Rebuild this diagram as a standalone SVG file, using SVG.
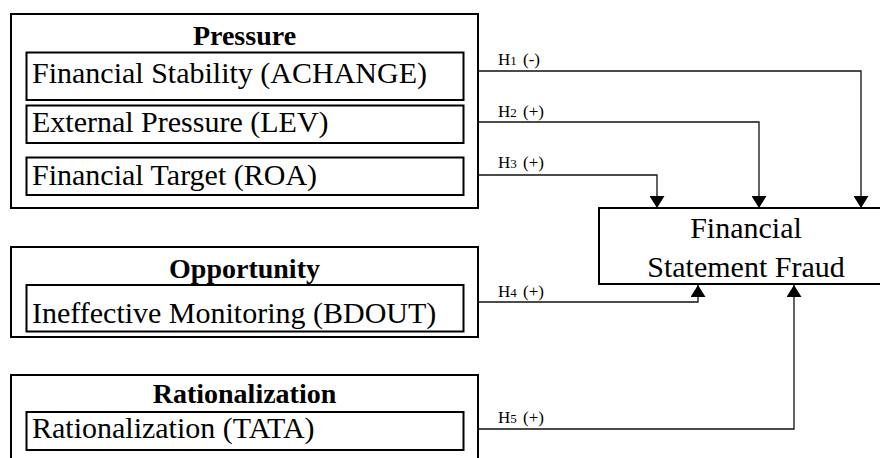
<svg xmlns="http://www.w3.org/2000/svg" width="880" height="458" viewBox="0 0 880 458">
<style>
.outer{fill:#fff;stroke:#000;stroke-width:2}
.inner{fill:#fff;stroke:#000;stroke-width:2}
.title{font-family:"Liberation Serif","Times New Roman",serif;font-weight:bold;font-size:28px;text-anchor:middle;fill:#000}
.item{font-family:"Liberation Serif","Times New Roman",serif;font-size:30px;fill:#000}
.target{font-family:"Liberation Serif","Times New Roman",serif;font-size:30px;text-anchor:middle;fill:#000}
.lbl{font-family:"Liberation Serif","Times New Roman",serif;font-size:17px;word-spacing:2px;fill:#000}
.lbl .sub{font-size:13px}
.conn{fill:none;stroke:#111;stroke-width:1.3}
</style>
<defs>
<marker id="arr" viewBox="0 0 12 15" refX="12" refY="7.5" markerWidth="12" markerHeight="15" markerUnits="userSpaceOnUse" orient="auto">
<path d="M0,0 L12,7.5 L0,15 z" fill="#000"/>
</marker>
</defs>
<rect width="880" height="458" fill="#fff"/>
<g id="pressure">
<rect class="outer" x="11" y="14" width="467" height="194"/>
<text class="title" x="244.5" y="45">Pressure</text>
<rect class="inner" x="26.5" y="52.5" width="437" height="47.5"/>
<text class="item" x="32" y="83">Financial Stability (ACHANGE)</text>
<rect class="inner" x="26.5" y="105.5" width="437" height="37.5"/>
<text class="item" x="32" y="132">External Pressure (LEV)</text>
<rect class="inner" x="26.5" y="157.5" width="437" height="37.5"/>
<text class="item" x="32" y="185">Financial Target (ROA)</text>
</g>
<g id="opportunity">
<rect class="outer" x="11" y="247" width="467" height="90"/>
<text class="title" x="244.5" y="278">Opportunity</text>
<rect class="inner" x="26.5" y="285" width="437" height="46.5"/>
<text class="item" x="32" y="323">Ineffective Monitoring (BDOUT)</text>
</g>
<g id="rationalization">
<rect class="outer" x="11" y="375" width="467" height="90"/>
<text class="title" x="244.5" y="403">Rationalization</text>
<rect class="inner" x="26.5" y="412" width="437" height="38"/>
<text class="item" x="32" y="438">Rationalization (TATA)</text>
</g>
<g id="fraud">
<rect class="outer" x="599" y="208" width="295" height="76"/>
<text class="target" x="746" y="238">Financial</text>
<text class="target" x="746" y="277">Statement Fraud</text>
</g>
<g id="connectors">
<path class="conn" d="M478,71 H861 V208" marker-end="url(#arr)"/>
<path class="conn" d="M478,122 H759 V208" marker-end="url(#arr)"/>
<path class="conn" d="M478,175 H657 V208" marker-end="url(#arr)"/>
<path class="conn" d="M478,302 H698 V285" marker-end="url(#arr)"/>
<path class="conn" d="M478,429 H794 V285" marker-end="url(#arr)"/>
<text class="lbl" x="498" y="65">H<tspan class="sub">1</tspan> (-)</text>
<text class="lbl" x="498" y="117">H<tspan class="sub">2</tspan> (+)</text>
<text class="lbl" x="498" y="168">H<tspan class="sub">3</tspan> (+)</text>
<text class="lbl" x="498" y="297">H<tspan class="sub">4</tspan> (+)</text>
<text class="lbl" x="498" y="423">H<tspan class="sub">5</tspan> (+)</text>
</g>
</svg>
